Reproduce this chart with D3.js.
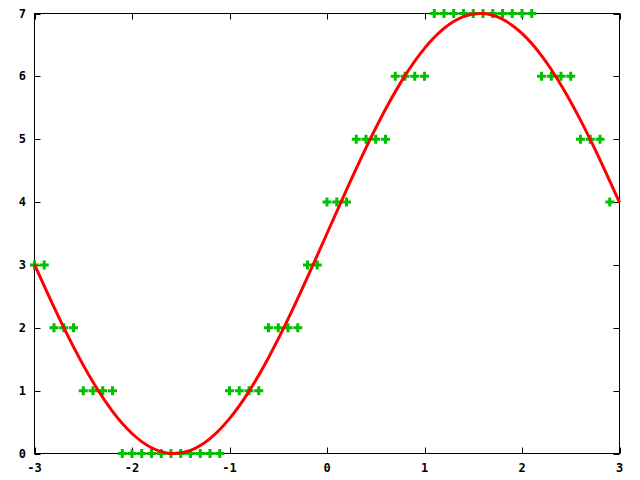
<!DOCTYPE html>
<html><head><meta charset="utf-8">
<script src="https://cdn.jsdelivr.net/npm/d3@7"></script>
<style>body{margin:0;background:#fff}svg{display:block}text{font-family:"DejaVu Sans Mono",monospace;font-weight:bold;font-size:12px;fill:#000}</style>
</head><body><svg id="c" width="640" height="480"></svg>
<script>
// Curve samples (x, y)
const curveX = [-3.0,-2.8,-2.6,-2.4,-2.2,-2.0,-1.8,-1.6,-1.4,-1.2,-1.0,-0.8,-0.6,-0.4,-0.2,0.0,0.2,0.4,0.6,0.8,1.0,1.2,1.4,1.6,1.8,2.0,2.2,2.4,2.6,2.8,3.0];
const curveY = [3.006,2.328,1.696,1.136,0.670,0.318,0.092,0.001,0.051,0.238,0.555,0.989,1.524,2.137,2.805,3.5,4.195,4.863,5.476,6.011,6.445,6.762,6.949,6.999,6.908,6.683,6.330,5.864,5.304,4.673,3.994];
// Green '+' points
const pointX = [-3.0,-2.9,-2.8,-2.7,-2.6,-2.5,-2.4,-2.3,-2.2,-2.1,-2.0,-1.9,-1.8,-1.7,-1.6,-1.5,-1.4,-1.3,-1.2,-1.1,-1.0,-0.9,-0.8,-0.7,-0.6,-0.5,-0.4,-0.3,-0.2,-0.1,0.0,0.1,0.2,0.3,0.4,0.5,0.6,0.7,0.8,0.9,1.0,1.1,1.2,1.3,1.4,1.5,1.6,1.7,1.8,1.9,2.0,2.1,2.2,2.3,2.4,2.5,2.6,2.7,2.8,2.9];
const pointY = [3,3,2,2,2,1,1,1,1,0,0,0,0,0,0,0,0,0,0,0,1,1,1,1,2,2,2,2,3,3,4,4,4,5,5,5,5,6,6,6,6,7,7,7,7,7,7,7,7,7,7,7,6,6,6,6,5,5,5,4];
const xTicks = [-3,-2,-1,0,1,2,3];
const yTicks = [0,1,2,3,4,5,6,7];

const svg = d3.select("#c");
const L = 34.5, R = 619.5, T = 13.5, B = 453.5;
const x = d3.scaleLinear().domain([-3,3]).range([L,R]);
const y = d3.scaleLinear().domain([0,7]).range([B,T]);

// ticks (inside, mirrored)
const g = svg.append("g").attr("stroke","#000").attr("stroke-width",1);
xTicks.forEach(t=>{
  const px = Math.round(x(t))+0.5;
  g.append("line").attr("x1",px).attr("x2",px).attr("y1",B).attr("y2",B-6);
  g.append("line").attr("x1",px).attr("x2",px).attr("y1",T).attr("y2",T+6);
});
yTicks.forEach(t=>{
  const py = Math.round(y(t))+0.5;
  g.append("line").attr("x1",L).attr("x2",L+6).attr("y1",py).attr("y2",py);
  g.append("line").attr("x1",R).attr("x2",R-6).attr("y1",py).attr("y2",py);
});
svg.append("rect").attr("x",L).attr("y",T).attr("width",R-L).attr("height",B-T)
  .attr("fill","none").attr("stroke","#000").attr("stroke-width",1);

// labels
svg.selectAll(".xl").data(xTicks).enter().append("text")
  .attr("x",d=>x(d)).attr("y",472).attr("text-anchor","middle").text(d=>d);
svg.selectAll(".yl").data(yTicks).enter().append("text")
  .attr("x",26).attr("y",d=>y(d)+4).attr("text-anchor","end").text(d=>d);

// points
const pts = pointX.map((v,i)=>[v,pointY[i]]);
svg.append("g").selectAll("path").data(pts).enter().append("path")
  .attr("d",d=>{const cx=x(d[0]),cy=y(d[1]);return `M${cx-4.5},${cy}H${cx+4.5}M${cx},${cy-4.5}V${cy+4.5}`;})
  .attr("stroke","#00c000").attr("stroke-width",3).attr("fill","none");

// curve
const cd = curveX.map((v,i)=>[v,curveY[i]]);
svg.append("path").datum(cd)
  .attr("d",d3.line().x(d=>x(d[0])).y(d=>y(d[1])).curve(d3.curveNatural))
  .attr("stroke","#ff0000").attr("stroke-width",3).attr("fill","none");
</script></body></html>
